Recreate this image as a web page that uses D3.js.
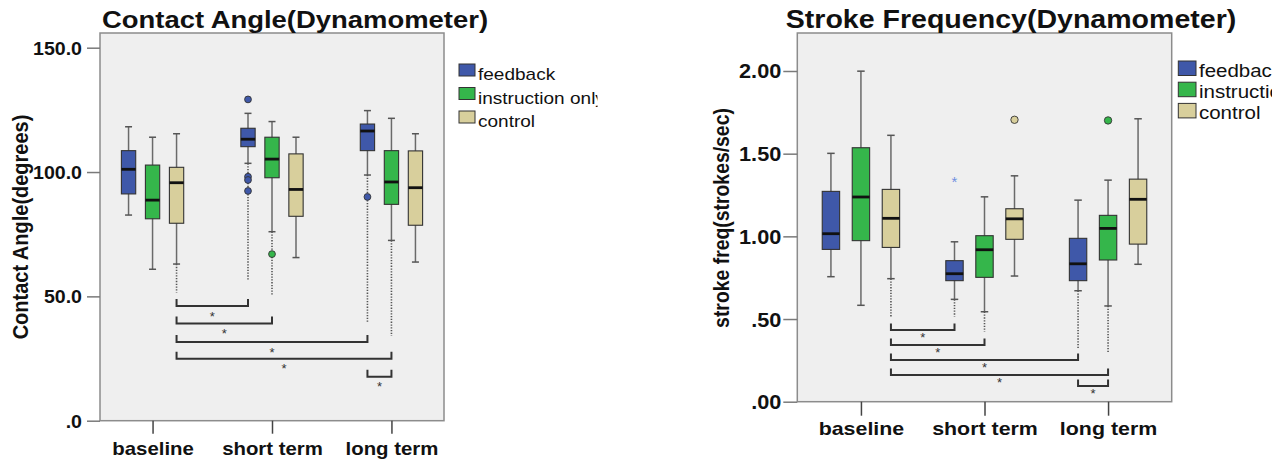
<!DOCTYPE html>
<html>
<head>
<meta charset="utf-8">
<script src="https://cdn.jsdelivr.net/npm/d3@7"></script>
<style>
  body { margin: 0; background: #fff; }
  svg { display: block; font-family: 'Liberation Sans', Arial, sans-serif; }
</style>
</head>
<body>
<script>
// ---- data ----
const categories = ["baseline", "short term", "long term"];
const groups = ["feedback", "instruction only", "control"];

// [low whisker, q1, median, q3, high whisker], one row per category
const angleFeedback    = [[82.7, 91.2, 101.1, 108.6, 118.2], [103.5, 110.2, 113.2, 117.6, 123.6], [98.8, 108.6, 116.5, 119.3, 124.7]];
const angleInstruction = [[60.9, 81.2, 88.7, 102.8, 114.0], [76.0, 97.7, 105.2, 114.0, 120.3], [72.5, 87.0, 96.0, 108.6, 121.6]];
const angleControl     = [[63.0, 79.4, 95.7, 101.9, 115.4], [65.6, 82.2, 93.0, 107.3, 114.0], [63.8, 78.6, 93.7, 108.5, 115.4]];

const freqFeedback    = [[0.756, 0.921, 1.016, 1.272, 1.502], [0.619, 0.732, 0.774, 0.853, 0.967], [0.671, 0.732, 0.834, 0.988, 1.219]];
const freqInstruction = [[0.583, 0.974, 1.238, 1.536, 1.999], [0.544, 0.752, 0.919, 1.004, 1.239], [0.579, 0.857, 1.048, 1.127, 1.340]];
const freqControl     = [[0.744, 0.933, 1.109, 1.284, 1.611], [0.760, 0.982, 1.106, 1.167, 1.366], [0.831, 0.953, 1.224, 1.346, 1.711]];

// [category, group, value, kind]
const angleOutliers = [
  ["short term", "feedback", 129.2, "o"], ["short term", "feedback", 98.1, "o"],
  ["short term", "feedback", 96.8, "o"], ["short term", "feedback", 92.4, "o"],
  ["short term", "instruction only", 67.0, "o"], ["long term", "feedback", 90.0, "o"]
];
const freqOutliers = [
  ["short term", "feedback", 1.345, "*"], ["short term", "control", 1.705, "o"],
  ["long term", "instruction only", 1.701, "o"]
];

// dotted extensions: [category, group, from, to]
const angleTrails = [
  ["baseline", "control", 63.0, 51.6], ["short term", "feedback", 103.5, 56.6],
  ["short term", "instruction only", 76.0, 50.6], ["long term", "feedback", 98.8, 39.8],
  ["long term", "instruction only", 72.5, 34.1]
];
const freqTrails = [
  ["baseline", "control", 0.744, 0.514], ["short term", "feedback", 0.619, 0.514],
  ["short term", "instruction only", 0.544, 0.423], ["long term", "feedback", 0.671, 0.323],
  ["long term", "instruction only", 0.579, 0.293]
];

// significance brackets: [from cat, from group, to cat, to group, level]
const angleBrackets = [
  ["baseline", "control", "short term", "feedback", 46.1],
  ["baseline", "control", "short term", "instruction only", 39.1],
  ["baseline", "control", "long term", "feedback", 31.6],
  ["baseline", "control", "long term", "instruction only", 24.9],
  ["long term", "feedback", "long term", "instruction only", 17.7]
];
const freqBrackets = [
  ["baseline", "control", "short term", "feedback", 0.433],
  ["baseline", "control", "short term", "instruction only", 0.343],
  ["baseline", "control", "long term", "feedback", 0.252],
  ["baseline", "control", "long term", "instruction only", 0.161],
  ["long term", "feedback", "long term", "instruction only", 0.095]
];

const angleTicks = [0, 50, 100, 150];
const angleTickLabels = [".0", "50.0", "100.0", "150.0"];
const freqTicks = [0, 0.5, 1, 1.5, 2];
const freqTickLabels = [".00", ".50", "1.00", "1.50", "2.00"];

// ---- styling ----
const colors = ["#3f58a9", "#35b64b", "#d8cf9c"];
const SX = 1.12;   // the picture is a bit wide, text is stretched to match

const width = 1282;
const height = 459;

const svg = d3.select("body")
  .append("svg")
    .attr("width", width)
    .attr("height", height);

function stretchedText(g, str, x, y, size, weight, anchor) {
  return g.append("text")
    .attr("transform", "translate(" + x + "," + y + ") scale(" + SX + ",1)")
    .attr("text-anchor", anchor)
    .attr("font-size", size)
    .attr("font-weight", weight)
    .attr("fill", "#111")
    .text(str);
}

function drawPanel(p) {
  const g = svg.append("g");

  const x = d3.scalePoint()
    .domain(categories)
    .range([p.left, p.right])
    .padding(p.catPad);

  const sub = d3.scaleBand()
    .domain(groups)
    .range([-p.subHalf, p.subHalf])
    .paddingInner(p.subPad)
    .paddingOuter(p.subPad / 2);

  const y = d3.scaleLinear()
    .domain([0, p.ticks[p.ticks.length - 1]])
    .range([p.bottom, p.topTick]);

  const bw = sub.bandwidth();
  const cx = function(cat, grp) { return x(cat) + sub(grp) + bw / 2; };

  // plot area
  g.append("rect")
    .attr("x", p.left).attr("y", p.top)
    .attr("width", p.right - p.left).attr("height", p.bottom - p.top)
    .attr("fill", "#efefef")
    .attr("stroke", "#8c8c8c").attr("stroke-width", 1.5);

  // dotted extensions
  g.selectAll("line.trail")
    .data(p.trails)
    .join("line")
      .attr("class", "trail")
      .attr("x1", function(d) { return cx(d[0], d[1]); })
      .attr("x2", function(d) { return cx(d[0], d[1]); })
      .attr("y1", function(d) { return y(d[2]); })
      .attr("y2", function(d) { return y(d[3]); })
      .attr("stroke", "#555").attr("stroke-width", 1.6)
      .attr("stroke-dasharray", "1.3 1.5");

  // boxes
  const boxes = [];
  groups.forEach(function(grp, gi) {
    p.stats[gi].forEach(function(s, ci) {
      boxes.push({ cat: categories[ci], grp: grp, gi: gi, s: s });
    });
  });

  const bx = g.selectAll("g.box")
    .data(boxes)
    .join("g")
      .attr("class", "box");

  bx.append("line")
    .attr("x1", function(d) { return cx(d.cat, d.grp); })
    .attr("x2", function(d) { return cx(d.cat, d.grp); })
    .attr("y1", function(d) { return y(d.s[0]); })
    .attr("y2", function(d) { return y(d.s[4]); })
    .attr("stroke", "#6a6a6a").attr("stroke-width", 1.5);

  [0, 4].forEach(function(k) {
    bx.append("line")
      .attr("x1", function(d) { return cx(d.cat, d.grp) - p.cap / 2; })
      .attr("x2", function(d) { return cx(d.cat, d.grp) + p.cap / 2; })
      .attr("y1", function(d) { return y(d.s[k]); })
      .attr("y2", function(d) { return y(d.s[k]); })
      .attr("stroke", "#555").attr("stroke-width", 1.5);
  });

  bx.append("rect")
    .attr("x", function(d) { return cx(d.cat, d.grp) - bw / 2; })
    .attr("y", function(d) { return y(d.s[3]); })
    .attr("width", bw)
    .attr("height", function(d) { return y(d.s[1]) - y(d.s[3]); })
    .attr("fill", function(d) { return colors[d.gi]; })
    .attr("stroke", "#333").attr("stroke-width", 1.1);

  bx.append("line")
    .attr("x1", function(d) { return cx(d.cat, d.grp) - bw / 2; })
    .attr("x2", function(d) { return cx(d.cat, d.grp) + bw / 2; })
    .attr("y1", function(d) { return y(d.s[2]); })
    .attr("y2", function(d) { return y(d.s[2]); })
    .attr("stroke", "#111").attr("stroke-width", 2.8);

  // outliers
  g.selectAll("circle.out")
    .data(p.outliers.filter(function(d) { return d[3] === "o"; }))
    .join("circle")
      .attr("class", "out")
      .attr("cx", function(d) { return cx(d[0], d[1]); })
      .attr("cy", function(d) { return y(d[2]); })
      .attr("r", p.r)
      .attr("fill", function(d) { return colors[groups.indexOf(d[1])]; })
      .attr("stroke", "#333").attr("stroke-width", 0.9);

  g.selectAll("text.extreme")
    .data(p.outliers.filter(function(d) { return d[3] === "*"; }))
    .join("text")
      .attr("class", "extreme")
      .attr("x", function(d) { return cx(d[0], d[1]); })
      .attr("y", function(d) { return y(d[2]) + 8; })
      .attr("text-anchor", "middle")
      .attr("font-size", 15)
      .attr("fill", "#6f8fe0")
      .text("*");

  // significance brackets
  g.selectAll("path.bracket")
    .data(p.brackets)
    .join("path")
      .attr("class", "bracket")
      .attr("d", function(d) {
        const x1 = cx(d[0], d[1]);
        const x2 = cx(d[2], d[3]);
        const yb = y(d[4]);
        return "M" + x1 + "," + (yb - p.bh) + "V" + yb + "H" + x2 + "V" + (yb - p.bh);
      })
      .attr("fill", "none")
      .attr("stroke", "#333").attr("stroke-width", 2);

  g.selectAll("text.star")
    .data(p.brackets)
    .join("text")
      .attr("class", "star")
      .attr("x", function(d) { return (cx(d[0], d[1]) + cx(d[2], d[3])) / 2; })
      .attr("y", function(d) { return y(d[4]) + p.starDy; })
      .attr("text-anchor", "middle")
      .attr("font-size", 13)
      .attr("fill", "#333")
      .text("*");

  // axes
  const yAxis = g.append("g")
    .attr("transform", "translate(" + p.left + ",0)")
    .call(d3.axisLeft(y)
      .tickValues(p.ticks)
      .tickFormat(function(d, i) { return p.tickLabels[i]; })
      .tickSize(p.tickLen)
      .tickSizeOuter(0));
  yAxis.select(".domain").remove();
  yAxis.selectAll("line").attr("stroke", "#7a7a7a").attr("stroke-width", 1.5);
  yAxis.selectAll("text")
    .attr("x", -(p.tickLen + p.tickPad) / SX)
    .attr("dy", "0.36em")
    .attr("transform", "scale(" + SX + ",1)")
    .attr("font-size", p.tickFont)
    .attr("font-weight", "bold")
    .attr("font-family", "'Liberation Sans', Arial, sans-serif")
    .attr("fill", "#111");

  const xAxis = g.append("g")
    .attr("transform", "translate(0," + p.bottom + ")")
    .call(d3.axisBottom(x).tickSize(p.tickLen).tickSizeOuter(0));
  xAxis.select(".domain").remove();
  xAxis.selectAll("line").attr("stroke", "#444").attr("stroke-width", 1.5);
  xAxis.selectAll("text")
    .attr("y", p.catDy)
    .attr("dy", 0)
    .attr("transform", "scale(" + SX + ",1)")
    .attr("font-size", p.catFont)
    .attr("font-weight", "bold")
    .attr("font-family", "'Liberation Sans', Arial, sans-serif")
    .attr("fill", "#111");
  // scale() moves x too, so put labels back over their ticks
  xAxis.selectAll(".tick").each(function() {
    d3.select(this).select("text").attr("x", 0);
  });

  // axis title
  g.append("text")
    .attr("transform", "translate(" + p.yTitleX + "," + p.yTitleY + ") rotate(-90) scale(1," + SX + ")")
    .attr("text-anchor", "middle")
    .attr("font-size", p.yTitleFont)
    .attr("font-weight", "bold")
    .attr("fill", "#111")
    .text(p.yTitle);

  // chart title
  stretchedText(g, p.title, p.titleX, 28, p.titleFont, "bold", "middle");

  // legend, clipped at the picture's edge
  const clipId = "clip" + p.id;
  svg.append("clipPath").attr("id", clipId)
    .append("rect").attr("x", p.legX - 5).attr("y", 0).attr("width", p.legClip - p.legX + 5).attr("height", height);

  const leg = g.append("g").attr("clip-path", "url(#" + clipId + ")");
  groups.forEach(function(grp, i) {
    const ty = p.legY + i * p.legStep;
    leg.append("rect")
      .attr("x", p.legX).attr("y", ty)
      .attr("width", p.legW).attr("height", p.legH)
      .attr("fill", colors[i])
      .attr("stroke", "#333").attr("stroke-width", 1);
    stretchedText(leg, grp, p.legX + p.legW + 3, ty + p.legTextDy, p.legFont, "normal", "start");
  });
}

drawPanel({
  id: "a",
  stats: [angleFeedback, angleInstruction, angleControl],
  outliers: angleOutliers, trails: angleTrails, brackets: angleBrackets,
  ticks: angleTicks, tickLabels: angleTickLabels,
  title: "Contact Angle(Dynamometer)", yTitle: "Contact Angle(degrees)",
  left: 100, right: 444, top: 33, bottom: 420.7, topTick: 47.7,
  catPad: 0.44, subHalf: 36, subPad: 0.404, cap: 7, r: 3.4,
  bh: 7, starDy: 14.5,
  tickLen: 13, tickPad: 5, tickFont: 17.5, catFont: 18.2, catDy: 34.3,
  yTitleX: 28, yTitleY: 227, yTitleFont: 20,
  titleX: 295, titleFont: 24.5,
  legX: 459, legY: 64, legStep: 23.5, legW: 16, legH: 12, legTextDy: 16, legFont: 17, legClip: 597.5
});

drawPanel({
  id: "b",
  stats: [freqFeedback, freqInstruction, freqControl],
  outliers: freqOutliers, trails: freqTrails, brackets: freqBrackets,
  ticks: freqTicks, tickLabels: freqTickLabels,
  title: "Stroke Frequency(Dynamometer)", yTitle: "stroke freq(strokes/sec)",
  left: 797.3, right: 1171.7, top: 33, bottom: 401.7, topTick: 71,
  catPad: 0.515, subHalf: 45, subPad: 0.42, cap: 7.5, r: 3.7,
  bh: 6.5, starDy: 12,
  tickLen: 14, tickPad: 2, tickFont: 19.4, catFont: 19.1, catDy: 33.3,
  yTitleX: 729, yTitleY: 218, yTitleFont: 19.4,
  titleX: 1011, titleFont: 25.5,
  legX: 1178.3, legY: 61, legStep: 21.2, legW: 17.7, legH: 14.5, legTextDy: 15.7, legFont: 18.3, legClip: 1272
});
</script>
</body>
</html>
